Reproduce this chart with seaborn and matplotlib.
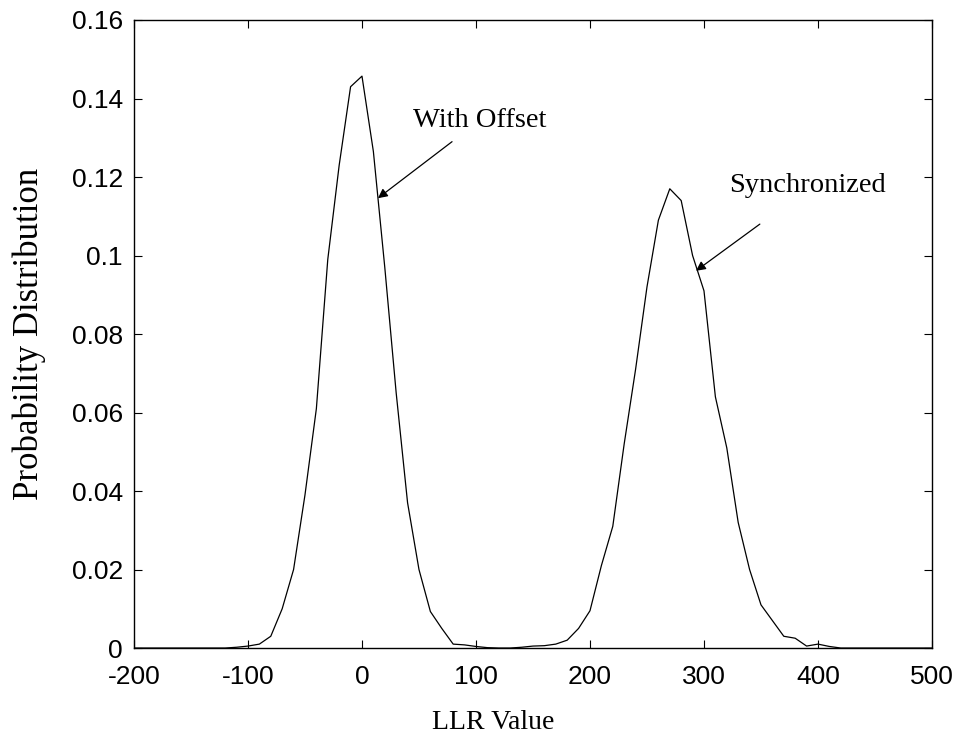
import numpy as np
import pandas as pd
import matplotlib
matplotlib.use("Agg")
import matplotlib.pyplot as plt
import seaborn as sns

# LLR histogram, 10-unit bins
llr_values = list(range(-200, 510, 10))

# "With Offset" lobe (bins -120 .. 120)
offset_x = list(range(-120, 130, 10))
offset_p = [0.0, 0.0002, 0.0005, 0.001, 0.003, 0.010, 0.020, 0.039, 0.061,
            0.099, 0.123, 0.143, 0.1457, 0.1265, 0.097, 0.065, 0.037, 0.020,
            0.0093, 0.005, 0.001, 0.0008, 0.0004, 0.0001, 0.0]

# "Synchronized" lobe (bins 130 .. 420)
sync_x = list(range(130, 430, 10))
sync_p = [0.0, 0.0002, 0.0005, 0.0006, 0.001, 0.002, 0.005, 0.0095, 0.021,
          0.031, 0.052, 0.071, 0.092, 0.109, 0.117, 0.114, 0.100, 0.091,
          0.064, 0.051, 0.032, 0.020, 0.011, 0.007, 0.003, 0.0025, 0.0005,
          0.001, 0.0004, 0.0]

x_ticks = [-200, -100, 0, 100, 200, 300, 400, 500]
y_ticks = [0, 0.02, 0.04, 0.06, 0.08, 0.1, 0.12, 0.14, 0.16]
y_tick_labels = ["0", "0.02", "0.04", "0.06", "0.08", "0.1", "0.12", "0.14", "0.16"]

lookup = dict(zip(offset_x, offset_p))
lookup.update(dict(zip(sync_x, sync_p)))
prob = [lookup.get(v, 0.0) for v in llr_values]
df = pd.DataFrame({"LLR": llr_values, "P": prob})

sns.set_theme(style="white")
plt.rcParams["font.family"] = ["Liberation Sans", "DejaVu Sans"]
plt.rcParams["text.color"] = "black"
plt.rcParams["axes.labelcolor"] = "black"
serif = ["Liberation Serif", "DejaVu Serif"]

fig = plt.figure(figsize=(9.68, 7.49), dpi=100)
ax = fig.add_axes([0.1384, 0.1348, 0.8244, 0.8385])

sns.lineplot(data=df, x="LLR", y="P", ax=ax, color="black", linewidth=0.9,
             sort=False, estimator=None)

ax.set_xlim(-200, 500)
ax.set_ylim(0, 0.16)
ax.set_xticks(x_ticks)
ax.set_xticklabels([str(t) for t in x_ticks])
ax.set_yticks(y_ticks)
ax.set_yticklabels(y_tick_labels)

for side in ["top", "right", "bottom", "left"]:
    ax.spines[side].set_visible(True)
    ax.spines[side].set_color("black")
    ax.spines[side].set_linewidth(1.0)

ax.tick_params(axis="both", which="major", direction="in", length=6, width=0.8,
               colors="black", labelsize=19, top=True, right=True,
               bottom=True, left=True)
ax.tick_params(axis="x", pad=12)
ax.tick_params(axis="y", pad=8)

ax.set_xlabel("LLR Value", fontsize=20, family=serif, color="black")
ax.xaxis.set_label_coords(0.45, -0.099)
ax.set_ylabel("Probability Distribution", fontsize=25, family=serif,
              color="black")
ax.yaxis.set_label_coords(-0.110, 0.5)

ax.annotate("", xy=(14, 0.1146), xytext=(79, 0.129),
            arrowprops=dict(arrowstyle="-|>", color="black", lw=0.9,
                            mutation_scale=14, shrinkA=0, shrinkB=0))
ax.text(45, 0.1327, "With Offset", fontsize=20.5, family=serif,
        color="black", ha="left", va="baseline")

ax.annotate("", xy=(293, 0.0961), xytext=(349, 0.108),
            arrowprops=dict(arrowstyle="-|>", color="black", lw=0.9,
                            mutation_scale=14, shrinkA=0, shrinkB=0))
ax.text(322, 0.1162, "Synchronized", fontsize=20.5, family=serif,
        color="black", ha="left", va="baseline")

fig.savefig("out.png", dpi=100)
